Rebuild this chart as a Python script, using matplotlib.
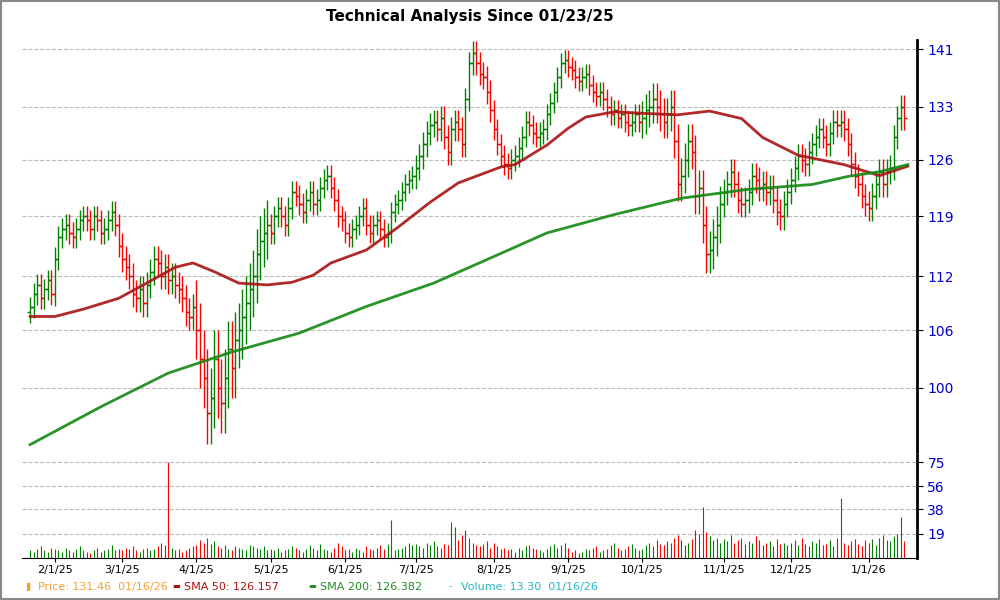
import matplotlib
matplotlib.use("Agg")
import matplotlib.pyplot as plt
import numpy as np
import pandas as pd

# daily closes, one list per month (trading days)
close_jan25 = [108.5, 110, 111, 109.5, 110.5, 111.5, 110]
close_feb = [114, 116.5, 117.5, 118, 117, 116.5, 117.5, 118.5, 119, 118.5, 117.5, 119, 118.5, 117, 117.5, 118.5, 119.5, 118, 115.5]
close_mar = [114, 113, 112, 110, 109.5, 110.5, 109, 111, 112.5, 114, 113.5, 112, 113, 111.5, 112, 111, 110.5, 109.5, 108, 107.5, 108.5]
close_apr = [106, 103, 101, 97.5, 99, 103, 100, 98.5, 101, 104, 102, 105, 106, 107.5, 109, 110.5, 112, 114.5, 116, 117, 118]
close_may = [117, 119, 120, 119, 118, 120, 122, 121.5, 120.5, 119.5, 121, 122, 120.5, 121, 122.5, 123.5, 124, 122.5, 121, 119, 118.5]
close_jun = [117, 116.5, 117.5, 118, 119, 120, 118, 117, 118, 118.5, 117.5, 116.5, 117, 119.5, 120.5, 121, 122, 123, 123.5, 124]
close_jul = [125, 126.5, 128, 129.5, 130.5, 131, 130, 131.5, 129, 127, 130, 131, 130, 128, 134, 139, 140.5, 139, 137.5, 137, 135, 132.5]
close_aug = [130, 128, 126.5, 125.5, 125, 126, 126.5, 127.5, 129, 131, 130.5, 129.5, 129, 129.5, 130, 132, 133.5, 135, 137, 139, 139.5]
close_sep = [138.5, 138, 137, 136.5, 137, 137.5, 136, 135, 134.5, 135, 134, 133, 132, 132.5, 131.5, 132, 131, 130.5, 131, 132, 131]
close_oct = [131.5, 132.5, 133, 134, 133, 132, 131, 132, 133, 128.5, 123, 124, 126, 128.5, 127, 121.5, 122.5, 118, 114.5, 115, 116.5, 118, 120.5]
close_nov = [122, 123, 124.5, 123, 121, 120.5, 121, 122, 124, 123.5, 122.5, 123, 122, 122.5, 121, 119.5, 119, 120.5, 122]
close_dec = [123.5, 125, 126.5, 126, 125.5, 127, 128, 129, 130, 129, 128, 129.5, 131, 130.5, 131, 130, 128, 125.5, 124, 123, 121.5, 120.5]
close_jan26 = [120, 121.5, 123, 124.5, 123, 124.5, 125, 129, 131.5, 133, 131.46]

# typical wick size beyond open/close per month
wick = [1.2, 1.3, 1.5, 3.0, 1.3, 1.2, 1.6, 1.4, 1.4, 2.2, 1.6, 1.5, 1.6]

# volume per day
vol_jan25 = [6, 5, 7, 9, 6, 5, 8]
vol_feb = [7, 6, 5, 8, 6, 5, 7, 9, 6, 5, 4, 6, 8, 5, 6, 7, 10, 6, 7]
vol_mar = [6, 8, 7, 9, 6, 5, 7, 8, 6, 7, 9, 12, 10, 75, 8, 6, 7, 5, 6, 8, 9]
vol_apr = [10, 14, 12, 16, 11, 13, 9, 8, 10, 7, 6, 9, 8, 7, 6, 10, 9, 8, 7, 9, 6]
vol_may = [7, 6, 8, 5, 6, 7, 9, 8, 6, 5, 7, 10, 8, 6, 11, 7, 6, 5, 8, 12, 9]
vol_jun = [6, 7, 5, 8, 6, 5, 9, 7, 6, 8, 10, 7, 11, 30, 6, 7, 8, 9, 12, 10]
vol_jul = [11, 9, 8, 12, 10, 13, 9, 8, 11, 10, 28, 24, 14, 18, 22, 16, 12, 10, 9, 11, 13, 8]
vol_aug = [12, 9, 7, 8, 6, 7, 5, 8, 6, 9, 10, 8, 7, 6, 5, 7, 9, 11, 8, 10, 12]
vol_sep = [8, 5, 6, 4, 5, 7, 6, 8, 9, 5, 6, 7, 10, 12, 8, 6, 7, 9, 11, 8, 6]
vol_oct = [7, 10, 12, 9, 14, 11, 10, 13, 12, 16, 18, 14, 10, 12, 15, 22, 19, 40, 20, 17, 14, 16, 12]
vol_nov = [15, 13, 18, 12, 14, 16, 11, 13, 12, 17, 14, 10, 12, 13, 9, 15, 11, 12, 10]
vol_dec = [12, 14, 10, 16, 11, 9, 13, 12, 15, 10, 11, 14, 9, 16, 47, 12, 10, 13, 15, 11, 9, 14]
vol_jan26 = [12, 15, 10, 16, 18, 14, 13, 17, 19, 32, 13.3]

# moving averages (trading-day index, value)
sma50_idx = [0, 7, 15, 25, 32, 41, 46, 52, 59, 67, 74, 80, 85, 95, 104, 113, 121, 133, 137, 146, 152, 157, 165, 173, 183, 192, 201, 207, 217, 230, 240, 248]
sma50_val = [107.5, 107.5, 108.3, 109.5, 111.0, 113.0, 113.5, 112.5, 111.2, 111.0, 111.3, 112.1, 113.5, 115.0, 117.7, 120.7, 123.1, 125.1, 125.4, 127.9, 130.1, 131.6, 132.3, 132.1, 131.9, 132.4, 131.4, 128.9, 126.6, 125.4, 124.0, 125.2]
sma200_idx = [0, 20, 39, 57, 76, 95, 114, 133, 146, 165, 184, 203, 221, 231, 240, 248]
sma200_val = [94.4, 98.1, 101.5, 103.7, 105.7, 108.6, 111.2, 114.6, 117.0, 119.2, 121.2, 122.3, 122.9, 123.9, 124.5, 125.4]

closes_by_month = [close_jan25, close_feb, close_mar, close_apr, close_may, close_jun, close_jul,
                   close_aug, close_sep, close_oct, close_nov, close_dec, close_jan26]
vols_by_month = [vol_jan25, vol_feb, vol_mar, vol_apr, vol_may, vol_jun, vol_jul,
                 vol_aug, vol_sep, vol_oct, vol_nov, vol_dec, vol_jan26]

holidays = ["2025-02-17", "2025-04-18", "2025-05-26", "2025-06-19", "2025-07-04",
            "2025-09-01", "2025-11-27", "2025-12-25", "2026-01-01"]
dates = pd.bdate_range("2025-01-23", "2026-01-16")
dates = dates[~dates.isin(pd.to_datetime(holidays))]

closes = np.concatenate(closes_by_month)
vols = np.concatenate(vols_by_month)
wicks = np.concatenate([[w] * len(m) for w, m in zip(wick, closes_by_month)])
opens = np.r_[closes[0] - 0.5, closes[:-1]]
highs = np.maximum(opens, closes) + wicks
lows = np.minimum(opens, closes) - wicks
n = len(closes)
x = np.arange(n)
up = closes >= opens
cols = np.where(up, "#008000", "#ff0000")

fig = plt.figure(figsize=(10, 6), dpi=100)
ax = fig.add_axes([0.022, 0.2467, 0.895, 0.6867])
axv = fig.add_axes([0.022, 0.07, 0.895, 0.1717], sharex=ax)

ax.vlines(x, lows, highs, colors=cols, linewidth=1)
ax.hlines(opens, x - 0.9, x, colors=cols, linewidth=1)
ax.hlines(closes, x, x + 0.9, colors=cols, linewidth=1)
ax.plot(sma50_idx, sma50_val, color="#aa1111", linewidth=2, alpha=0.9)
ax.plot(sma200_idx, sma200_val, color="#118811", linewidth=2, alpha=0.9)

ax.set_yscale("log")
ax.set_ylim(93.7, 142.3)
ticks = [100, 106, 112, 119, 126, 133, 141]
ax.yaxis.tick_right()
ax.set_yticks(ticks)
ax.set_yticklabels([str(t) for t in ticks])
ax.yaxis.set_minor_locator(matplotlib.ticker.NullLocator())
ax.grid(axis="y", color="#bbbbbb", linestyle="--", linewidth=0.8)
ax.set_xlim(-2.3, 250.6)
ax.tick_params(axis="x", bottom=False, labelbottom=False)
ax.tick_params(axis="y", colors="#000000", labelcolor="#0000cc", labelsize=10, length=4)

axv.vlines(x, 0, vols, colors=cols, linewidth=0.8)
axv.set_ylim(0, 80.5)
axv.yaxis.tick_right()
axv.set_yticks([19, 38, 56, 75])
axv.grid(axis="y", color="#bbbbbb", linestyle="--", linewidth=0.8)
axv.tick_params(axis="y", labelcolor="#0000cc", labelsize=10, length=4)

month_pos = [i for i in range(n) if i == 0 or dates[i].month != dates[i - 1].month][1:]
axv.set_xticks(month_pos)
axv.set_xticklabels([f"{dates[i].month}/1/{dates[i].strftime('%y')}" for i in month_pos], fontsize=8)
axv.tick_params(axis="x", length=3, pad=2)

for a in (ax, axv):
    for s in ("top", "left"):
        a.spines[s].set_visible(False)
    a.spines["right"].set_linewidth(2)
ax.spines["bottom"].set_visible(False)

fig.text(0.47, 0.985, "Technical Analysis Since 01/23/25", ha="center", va="top",
         fontsize=11, fontweight="bold")

legend_items = [
    (0.026, "#f7a035", "\u258c", "Price: 131.46  01/16/26"),
    (0.172, "#aa1111", "\u25ac", "SMA 50: 126.157"),
    (0.308, "#228b22", "\u25ac", "SMA 200: 126.382"),
    (0.449, "#22b5c5", "-", "Volume: 13.30  01/16/26"),
]
for xpos, c, mark, label in legend_items:
    fig.text(xpos, 0.022, mark, color=c, fontsize=6, va="center")
    fig.text(xpos + 0.012, 0.022, label, color=c, fontsize=8, va="center")

fig.patches.append(plt.Rectangle((0.001, 0.001), 0.998, 0.998, transform=fig.transFigure,
                                 fill=False, edgecolor="#888888", linewidth=1.5))
fig.savefig("out.png", dpi=100)
